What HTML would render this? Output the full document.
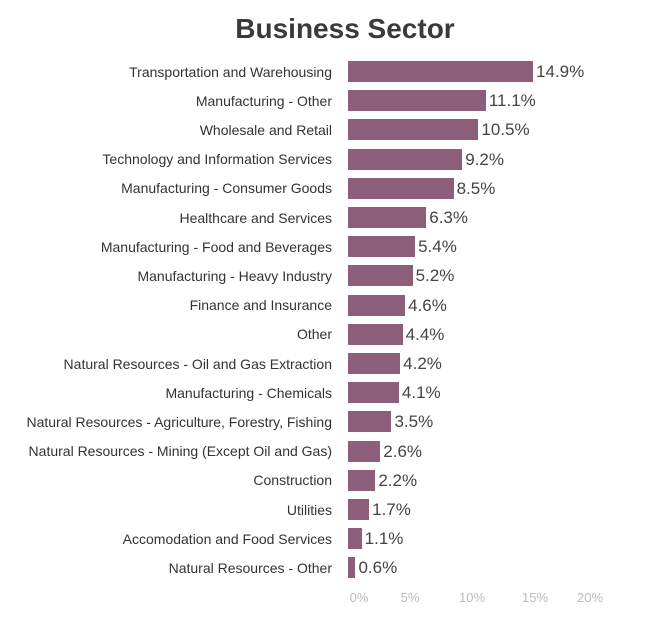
<!DOCTYPE html>
<html><head><style>
body{margin:0;width:650px;height:625px;background:#fff;font-family:"Liberation Sans",sans-serif;position:relative;overflow:hidden}
.t{position:absolute;left:0;width:690px;text-align:center;top:13px;font-size:28px;font-weight:bold;color:#3a3a3a}
.l{position:absolute;right:318px;font-size:14px;color:#333;white-space:nowrap;line-height:20px}
.b{position:absolute;left:348px;height:21px;background:#8c5e7a}
.v{position:absolute;font-size:17px;color:#444;line-height:21px}
.a{position:absolute;top:590px;font-size:13px;color:#bbb;transform:translateX(-50%)}
</style></head><body>
<div class="t">Business Sector</div>
<div id="c"></div>
<div class="a" style="left:359px">0%</div>
<div class="a" style="left:410px">5%</div>
<div class="a" style="left:472px">10%</div>
<div class="a" style="left:535px">15%</div>
<div class="a" style="left:590px">20%</div>
<script>
var d=[["Transportation and Warehousing",14.9],["Manufacturing - Other",11.1],["Wholesale and Retail",10.5],["Technology and Information Services",9.2],["Manufacturing - Consumer Goods",8.5],["Healthcare and Services",6.3],["Manufacturing - Food and Beverages",5.4],["Manufacturing - Heavy Industry",5.2],["Finance and Insurance",4.6],["Other",4.4],["Natural Resources - Oil and Gas Extraction",4.2],["Manufacturing - Chemicals",4.1],["Natural Resources - Agriculture, Forestry, Fishing",3.5],["Natural Resources - Mining (Except Oil and Gas)",2.6],["Construction",2.2],["Utilities",1.7],["Accomodation and Food Services",1.1],["Natural Resources - Other",0.6]];
var h="";
d.forEach(function(r,i){var y=61+i*29.2;var w=r[1]*12.42;
h+='<div class="l" style="top:'+(y+0.5)+'px">'+r[0]+'</div><div class="b" style="top:'+y+'px;width:'+w+'px"></div><div class="v" style="top:'+(y)+'px;left:'+(351+w)+'px">'+r[1].toFixed(1)+'%</div>';});
document.getElementById("c").innerHTML=h;
</script>
</body></html>
